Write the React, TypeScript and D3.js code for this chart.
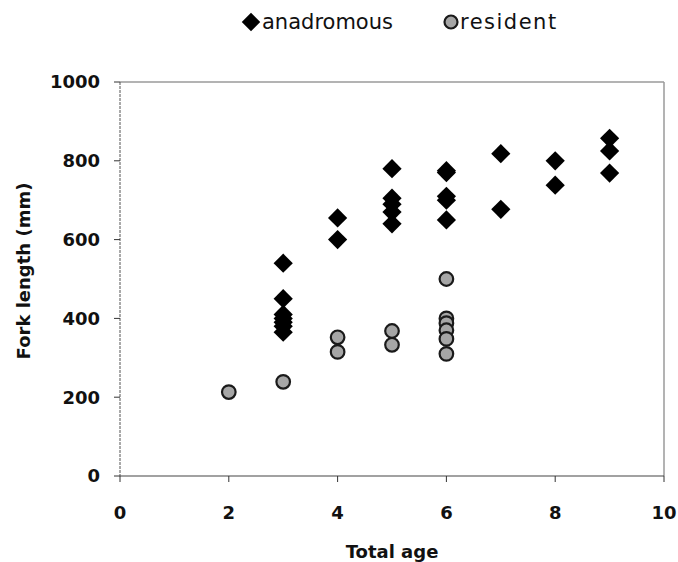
import React from "react";
import * as d3 from "d3";

const anadAge = [3, 3, 3, 3, 3, 3, 3, 4, 4, 5, 5, 5, 5, 5, 6, 6, 6, 6, 6, 7, 7, 8, 8, 9, 9, 9];
const anadLen = [540, 450, 410, 400, 390, 380, 365, 655, 600, 780, 705, 690, 670, 640, 775, 770, 710, 700, 650, 818, 677, 800, 738, 857, 825, 769];
const resAge = [2, 3, 4, 4, 5, 5, 6, 6, 6, 6, 6, 6];
const resLen = [213, 239, 352, 315, 368, 333, 500, 400, 388, 370, 348, 310];
const xTicks = [0, 2, 4, 6, 8, 10];
const yTicks = [0, 200, 400, 600, 800, 1000];
const seriesNames = ["anadromous", "resident"];

const W = 678, H = 562;
const L = 120, R = 664, T = 82, B = 476;

export default function App() {
  const x = d3.scaleLinear().domain([0, 10]).range([L, R]);
  const y = d3.scaleLinear().domain([0, 1000]).range([B, T]);
  const diamond = d3.symbol().type(d3.symbolSquare).size(185)()!;
  const legendDiamond = d3.symbol().type(d3.symbolSquare).size(170)()!;
  const font = "'DejaVu Sans', Arial, sans-serif";
  return (
    <svg width={W} height={H} style={{ position: "absolute", left: 0, top: 0, background: "#fff" }}>
      <rect x={0} y={0} width={W} height={H} fill="#fff" />
      {/* frame */}
      <line x1={L} y1={T} x2={R} y2={T} stroke="#9a9a9a" strokeWidth={1.5} />
      <line x1={R} y1={T} x2={R} y2={B} stroke="#9a9a9a" strokeWidth={1.5} />
      <line x1={L} y1={T} x2={L} y2={B} stroke="#555" strokeWidth={1} strokeDasharray="3,1" />
      <line x1={L} y1={B} x2={R} y2={B} stroke="#444" strokeWidth={1.2} />
      {yTicks.map((t) => (
        <g key={"y" + t}>
          <line x1={L - 6} x2={L} y1={y(t)} y2={y(t)} stroke="#333" strokeWidth={1} />
          <text x={100} y={y(t)} dy="0.36em" textAnchor="end" fontFamily={font} fontWeight="bold" fontSize={18} fill="#111">
            {t}
          </text>
        </g>
      ))}
      {xTicks.map((t) => (
        <g key={"x" + t}>
          <line x1={x(t)} x2={x(t)} y1={B} y2={B + 6} stroke="#333" strokeWidth={1} />
          <text x={x(t)} y={519} textAnchor="middle" fontFamily={font} fontWeight="bold" fontSize={18} fill="#111">
            {t}
          </text>
        </g>
      ))}
      <text x={392} y={558} textAnchor="middle" fontFamily={font} fontWeight="bold" fontSize={18} fill="#111">
        Total age
      </text>
      <text
        transform={`translate(30,${271}) rotate(-90)`}
        textAnchor="middle"
        fontFamily={font}
        fontWeight="bold"
        fontSize={18}
        fill="#111"
      >
        Fork length (mm)
      </text>
      {/* data */}
      {anadAge.map((a, i) => (
        <path key={"a" + i} d={diamond} transform={`translate(${x(a)},${y(anadLen[i])}) rotate(45)`} fill="#000" />
      ))}
      {resAge.map((a, i) => (
        <circle key={"r" + i} cx={x(a)} cy={y(resLen[i])} r={6.8} fill="#a6a6a6" stroke="#1a1a1a" strokeWidth={2.2} />
      ))}
      {/* legend */}
      <path d={legendDiamond} transform="translate(251,22) rotate(45)" fill="#000" />
      <text x={262} y={29} fontFamily={font} fontSize={21} fill="#111">
        {seriesNames[0]}
      </text>
      <circle cx={451} cy={22} r={6.5} fill="#a6a6a6" stroke="#1a1a1a" strokeWidth={2.2} />
      <text x={460} y={29} fontFamily={font} fontSize={21} fill="#111" letterSpacing={1.5}>
        {seriesNames[1]}
      </text>
    </svg>
  );
}
